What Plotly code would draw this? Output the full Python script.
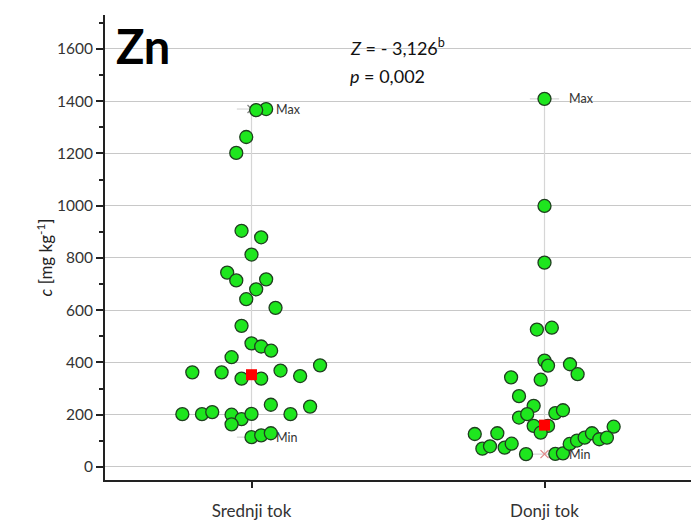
import plotly.graph_objects as go

# ---------------- data ----------------
categories = ["Srednji tok", "Donji tok"]

srednji_values = [1370, 1366, 1263, 1202, 904, 879, 813, 744, 714, 718, 680, 642, 609,
                  540, 473, 461, 445, 420, 389, 362, 362, 338, 338, 369, 348,
                  238, 231, 202, 202, 210, 200, 183, 203, 163, 202, 114, 121, 129]
srednji_jitter = [0.050, 0.016, -0.018, -0.052, -0.034, 0.033, 0.0, -0.083, -0.052, 0.050,
                  0.016, -0.018, 0.082, -0.034, 0.0, 0.033, 0.067, -0.068, 0.234, -0.202,
                  -0.102, -0.034, 0.033, 0.099, 0.166, 0.066, 0.200, -0.236, -0.169, -0.134,
                  -0.068, -0.034, 0.0, -0.068, 0.133, 0.0, 0.033, 0.066]

donji_values = [1409, 999, 782, 526, 533, 407, 388, 393, 355, 343, 334, 271, 234, 189,
                202, 206, 217, 157, 157, 131, 154, 126, 129, 70, 79, 74, 89, 49, 50,
                52, 88, 101, 112, 129, 106, 112]
donji_jitter = [0.0, 0.0, 0.0, -0.026, 0.025, 0.0, 0.012, 0.087, 0.113, -0.114, -0.013,
                -0.087, -0.037, -0.087, -0.059, 0.037, 0.063, -0.037, 0.012, -0.013, 0.236,
                -0.238, -0.161, -0.212, -0.186, -0.136, -0.112, -0.063, 0.037, 0.063, 0.086,
                0.111, 0.137, 0.162, 0.187, 0.213]

means = [353, 160]
y_ticks = [0, 200, 400, 600, 800, 1000, 1200, 1400, 1600]

FONT = "Lato, 'Open Sans', sans-serif"
GREEN = "#1ee61e"
EDGE = "#1f3f1f"

series = [(srednji_values, srednji_jitter), (donji_values, donji_jitter)]
maxs = [max(v) for v, _ in series]
mins = [min(v) for v, _ in series]

fig = go.Figure()

# whiskers (min-max) with caps
for i, (vals, _) in enumerate(series):
    c = i + 1
    fig.add_trace(go.Scatter(
        x=[c, c, None, c - 0.05, c + 0.05, None, c - 0.05, c + 0.05],
        y=[mins[i], maxs[i], None, maxs[i], maxs[i], None, mins[i], mins[i]],
        mode="lines", line=dict(color="#d6d6d6", width=1.2),
        hoverinfo="skip", showlegend=False))

# max / min cross markers
fig.add_trace(go.Scatter(
    x=[1, 1, 2, 2], y=[maxs[0], mins[0], maxs[1], mins[1]],
    mode="markers",
    marker=dict(symbol="x-thin", size=8, line=dict(width=1.3,
                color=["#888888", "#555555", "#e08a8a", "#e08a8a"])),
    showlegend=False, hoverinfo="skip"))

# data points
for i, (vals, jit) in enumerate(series):
    c = i + 1
    fig.add_trace(go.Scatter(
        x=[c + j for j in jit], y=vals, mode="markers",
        marker=dict(size=13, color=GREEN, line=dict(color=EDGE, width=1.3)),
        showlegend=False))

# means
fig.add_trace(go.Scatter(
    x=[1, 2], y=means, mode="markers",
    marker=dict(symbol="square", size=11, color="#ff0000", line=dict(width=0)),
    showlegend=False))

# Max / Min labels
for i in range(2):
    c = i + 1
    for val, txt in ((maxs[i], "Max"), (mins[i], "Min")):
        fig.add_annotation(x=c, y=val, xref="x", yref="y", text=txt, showarrow=False,
                           xanchor="left", xshift=22, font=dict(size=12.5, color="#333333", family=FONT))

# Zn label and statistics
fig.add_annotation(x=0.015, y=1.0, xref="paper", yref="paper", yshift=-1,
                   text="<b>Zn</b>", showarrow=False, xanchor="left", yanchor="top",
                   font=dict(size=47, color="#000000", family=FONT))
fig.add_annotation(x=0.414, y=1.0, xref="paper", yref="paper", yshift=-18,
                   text="<i>Z</i> = - 3,126<sup>b</sup>", showarrow=False, xanchor="left", yanchor="top",
                   font=dict(size=18, color="#111111", family=FONT))
fig.add_annotation(x=0.414, y=1.0, xref="paper", yref="paper", yshift=-48,
                   text="<i>p</i> = 0,002", showarrow=False, xanchor="left", yanchor="top",
                   font=dict(size=18, color="#111111", family=FONT))

# y title
fig.add_annotation(x=0, y=800, xref="paper", yref="y", xshift=-74,
                   text="<i>c</i> [mg kg<sup>-1</sup>]", showarrow=False, textangle=-90,
                   font=dict(size=17, color="#222222", family=FONT))

fig.update_layout(
    width=691, height=524,
    margin=dict(l=105, r=0, t=15, b=44),
    paper_bgcolor="white", plot_bgcolor="white",
    font=dict(family=FONT, color="#333333"),
    xaxis=dict(range=[0.5, 2.5], tickvals=[1, 2], ticktext=categories,
               showgrid=False, zeroline=False, showline=True, linecolor="#222222", linewidth=2,
               ticks="outside", ticklen=6, tickwidth=1.5, tickcolor="#222222",
               ticklabelstandoff=9, tickfont=dict(size=17, color="#333333")),
    yaxis=dict(range=[-50, 1730], tickvals=y_ticks,
               showgrid=True, gridcolor="#c8c8c8", gridwidth=1.2, zeroline=False,
               showline=True, linecolor="#222222", linewidth=2,
               ticks="outside", ticklen=7, tickwidth=1.5, tickcolor="#222222",
               tickfont=dict(size=15.5, color="#333333"),
               minor=dict(dtick=100, tick0=0, ticks="outside", ticklen=4, tickwidth=1.5,
                          tickcolor="#222222", showgrid=False)),
)

fig.write_html("out.html")
